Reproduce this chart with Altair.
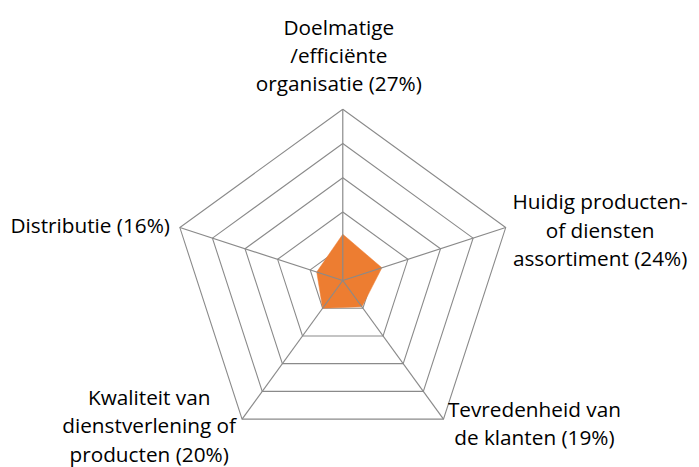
import altair as alt
import pandas as pd

# ---- data ----
categories = ["Doelmatige /efficiënte organisatie", "Huidig producten- of diensten assortiment",
              "Tevredenheid van de klanten", "Kwaliteit van dienstverlening of producten",
              "Distributie"]
labels = ["Doelmatige\n/efficiënte\norganisatie (27%)",
          "Huidig producten-\nof diensten\nassortiment (24%)",
          "Tevredenheid van\nde klanten (19%)",
          "Kwaliteit van\ndienstverlening of\nproducten (20%)",
          "Distributie (16%)"]
values = [27, 24, 19, 20, 16]
ring_levels = [20, 40, 60, 80, 100]
max_value = 100

n = len(categories)
ORANGE = "#ED7D31"
GRID = "#8A8A8A"
FONT = "Open Sans"
FS = 21
LH = 28.5

poly_df = pd.DataFrame({
    "idx": list(range(n)) + [n],
    "r": values + [values[0]],
})
ring_df = pd.DataFrame([
    {"level": lv, "idx": i, "r": lv} for lv in ring_levels for i in range(n + 1)
])
spoke_df = pd.DataFrame({"idx": list(range(n)), "r": [max_value] * n})
label_df = pd.DataFrame({"idx": list(range(n)), "r": [max_value] * n,
                         "label": labels, "cat": categories})

# 1.733 px per unit, centre at (338.7, 273) inside the plot area
W, H = 691, 459
K = 1.7331
CX, CY = 338.7, 273.0
xs = alt.Scale(domain=[-CX / K, (W - CX) / K], nice=False, zero=False)
ys = alt.Scale(domain=[-(H - CY) / K, CY / K], nice=False, zero=False)


def polar(ch):
    return ch.transform_calculate(
        ang=f"PI/2 - datum.idx*2*PI/{n}"
    ).transform_calculate(
        x="datum.r*cos(datum.ang)", y="datum.r*sin(datum.ang)", x0="0", y0="0"
    )


rings = polar(alt.Chart(ring_df)).mark_line(stroke=GRID, strokeWidth=1.1).encode(
    x=alt.X("x:Q", scale=xs, axis=None),
    y=alt.Y("y:Q", scale=ys, axis=None),
    detail="level:N",
    order="idx:Q",
)

area = polar(alt.Chart(poly_df)).mark_line(fill=ORANGE, stroke=ORANGE, strokeWidth=0.5).encode(
    x=alt.X("x:Q", scale=xs, axis=None),
    y=alt.Y("y:Q", scale=ys, axis=None),
    order="idx:Q",
)

spokes = polar(alt.Chart(spoke_df)).mark_rule(stroke=GRID, strokeWidth=1.2).encode(
    x=alt.X("x0:Q", scale=xs, axis=None),
    y=alt.Y("y0:Q", scale=ys, axis=None),
    x2="x:Q",
    y2="y:Q",
)

# label placement per axis (offsets from the axis end)
label_style = [
    dict(align="center", dx=-4, dy=-75.4),
    dict(align="center", dx=95.5, dy=-18.4),
    dict(align="center", dx=92, dy=-2),
    dict(align="center", dx=-94, dy=-14),
    dict(align="right", dx=-10, dy=5.6),
]
text_layers = []
for i, st in enumerate(label_style):
    t = polar(alt.Chart(label_df)).transform_filter(f"datum.idx == {i}").mark_text(
        font=FONT, fontSize=FS, color="#000000", lineBreak="\n", lineHeight=LH,
        baseline="alphabetic", **st
    ).encode(
        x=alt.X("x:Q", scale=xs, axis=None),
        y=alt.Y("y:Q", scale=ys, axis=None),
        text="label:N",
    )
    text_layers.append(t)

chart = alt.layer(rings, area, spokes, *text_layers).properties(
    width=W, height=H, padding=0,
    autosize=alt.AutoSizeParams(type="none"),
    background="white",
).configure_view(stroke=None)

chart.save("out.html", embed_options={"renderer": "svg", "actions": False})
